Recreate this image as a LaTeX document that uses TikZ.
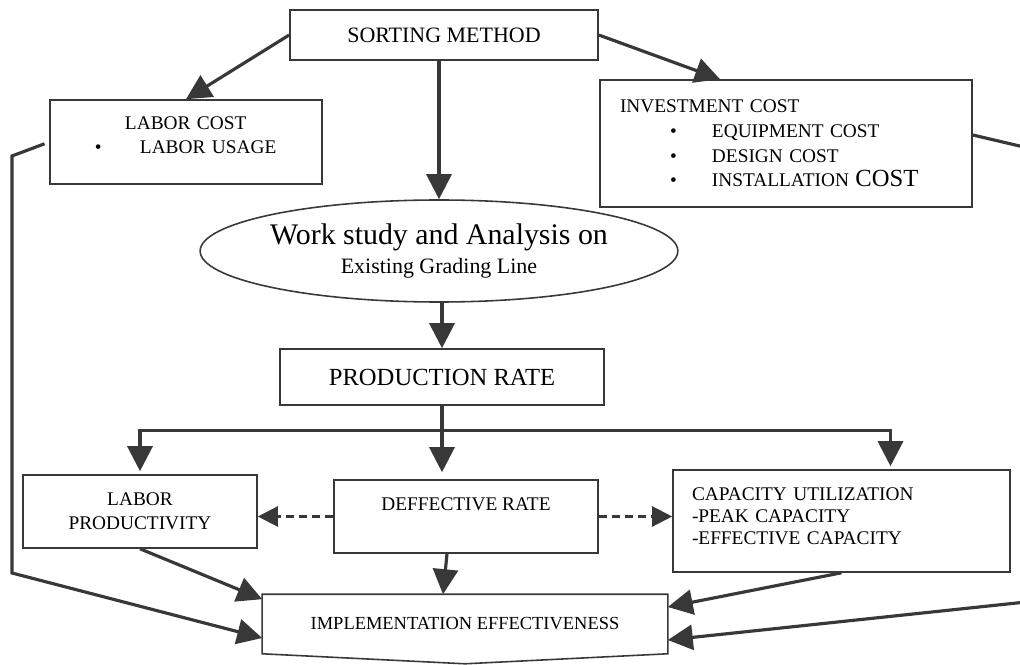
\documentclass[tikz,border=0pt]{standalone}
\usepackage{fontspec}
\setmainfont{Liberation Serif}
\usetikzlibrary{arrows.meta,calc,positioning,shapes.geometric}
\definecolor{ink}{gray}{0.22}
\tikzset{%
	box/.style       = {draw=ink, rectangle, line width=0.9pt, inner sep=0pt, align=center, font=\fontsize{11}{13.6}\selectfont},
	listbox/.style   = {box, align=left, text width=#1},
	oval/.style      = {draw=ink, ellipse, line width=0.9pt, inner sep=0pt, minimum width=92.4mm, minimum height=20.4mm, align=center},
	arrow/.style     = {draw=ink, line width=1.8pt, -{Triangle[length=5mm,width=5mm]}},
	dasharrow/.style = {draw=ink, line width=1.3pt, dash pattern=on 1.6mm off 1mm, -{Triangle[length=4mm,width=4mm]}},
}

\begin{document}
\begin{tikzpicture}[x=0.2mm, y=-0.2mm]
	\useasboundingbox (0,0) rectangle (1020,665);
	\clip (0,0) rectangle (1020,665);
	% top row
	\node[box, minimum width=61.6mm, minimum height=10mm, font=\fontsize{12.5}{15}\selectfont] (sort) at (444,35) {SORTING METHOD};
	\node[listbox=36.4mm, inner xsep=9mm, minimum height=16.8mm] (labcost) at (186,142) {\hspace*{6mm}LABOR COST\\ \makebox[9mm][l]{\textbullet}LABOR USAGE\\[-2mm]\mbox{}};
	\node[listbox=66.4mm, inner xsep=4mm, minimum height=25.4mm, font=\fontsize{11}{14}\selectfont] (invest) at (786,143.5) {INVESTMENT COST\\
		\hspace*{10mm}\makebox[8.4mm][l]{\textbullet}EQUIPMENT COST\\
		\hspace*{10mm}\makebox[8.4mm][l]{\textbullet}DESIGN COST\\
		\hspace*{10mm}\makebox[8.4mm][l]{\textbullet}INSTALLATION {\fontsize{14}{14}\selectfont COST}};
	% middle
	\node[oval] (work) at (439,251) {{\fontsize{17}{20}\selectfont Work study and Analysis on}\\[3pt]{\fontsize{12.5}{15}\selectfont Existing Grading Line}};
	\node[box, minimum width=64.8mm, minimum height=11.2mm, font=\fontsize{14}{16}\selectfont] (prod) at (442,377) {PRODUCTION RATE};
	% lower row
	\node[box, minimum width=46.8mm, minimum height=14.6mm] (labprod) at (140,511.5) {LABOR\\PRODUCTIVITY};
	\node[box, minimum width=52.8mm, minimum height=14.6mm] (defect) at (466,516.5) {DEFFECTIVE RATE\\ \mbox{}};
	\node[listbox=59.8mm, inner xsep=3.8mm, minimum height=20.4mm, font=\fontsize{11}{12.5}\selectfont] (capac) at (841.5,521) {CAPACITY UTILIZATION\\ -PEAK CAPACITY\\ -EFFECTIVE CAPACITY\\[-2.5mm]\mbox{}};
	\node[box, draw=none, minimum width=80.8mm, minimum height=11.6mm, font=\fontsize{10.5}{12}\selectfont] (impl) at (465,624) {IMPLEMENTATION EFFECTIVENESS};
	\draw[ink, line width=0.9pt] (impl.north west) -- (impl.north east) -- (impl.south east) -- ($(impl.south)+(0,10)$) -- (impl.south west) -- cycle;

	% arrows from the top
	\draw[arrow] (sort.west) -- (labcost.north);
	\draw[arrow] (sort.east) -- ([xshift=-13.2mm]invest.north);
	\draw[arrow] (work.north |- sort.south) -- (work.north);
	\draw[arrow] (prod.north |- work.south) -- (prod.north);
	% split below production rate
	\coordinate (bus) at ($(prod.south)+(0,25)$);
	\draw[arrow, shorten >=1.4mm] (prod.south) -- (prod.south |- defect.north);
	\draw[arrow, shorten >=0.6mm] (bus) -| (labprod.north);
	\draw[arrow, shorten >=0.6mm] (bus) -| ([xshift=9.8mm]capac.north);
	\draw[dasharrow] (defect.west) -- (defect.west -| labprod.east);
	\draw[dasharrow] (defect.east) -- (defect.east -| capac.west);
	% into implementation effectiveness
	\draw[arrow] (labprod.south) -- ([yshift=-1mm]impl.north west);
	\draw[arrow] ([xshift=-3.8mm]defect.south) -- ([xshift=-4.4mm]impl.north);
	\draw[arrow] (capac.south) -- ([yshift=3.4mm]impl.east);
	\coordinate (ltop) at (12,156);
	\coordinate (lbot) at (12,573);
	\draw[arrow, shorten <=1mm] (labcost.west) -- (ltop) -- (lbot) -- ([yshift=-2.8mm]impl.west);
	\coordinate (rtop) at (1045,152);
	\coordinate (rbot) at (1045,600);
	\draw[arrow] ([yshift=1.7mm]invest.east) -- (rtop) -- (rbot) -- ([yshift=-3.2mm]impl.east);
\end{tikzpicture}
\end{document}
